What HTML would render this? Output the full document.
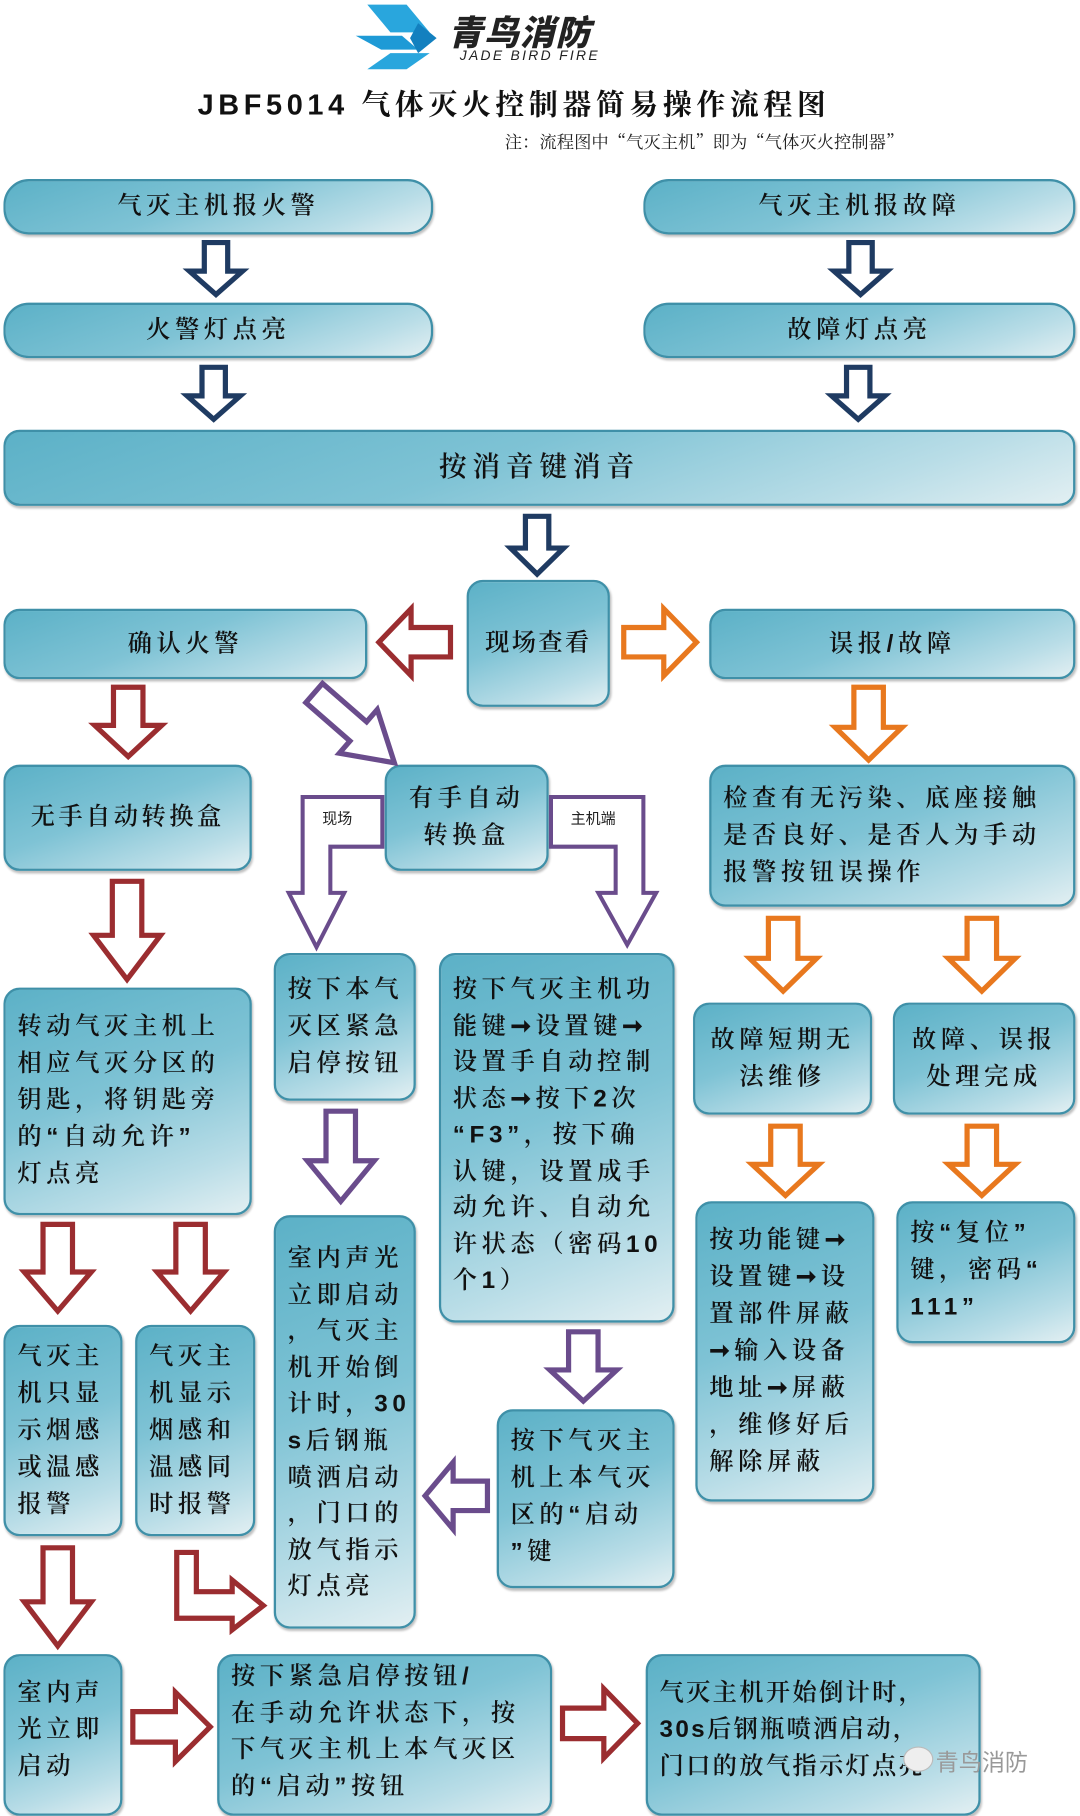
<!DOCTYPE html>
<html><head><meta charset="utf-8">
<style>
html,body{margin:0;padding:0;background:#fff;width:1080px;height:1816px;overflow:hidden}
#c{position:absolute;left:0;top:0;width:935px;height:1572px;transform:scale(1.15508);transform-origin:0 0;font-family:"Liberation Sans","Noto Serif CJK SC",serif}
.b{position:absolute;box-sizing:border-box;border:2px solid #3f90a8;border-radius:14px;
background:linear-gradient(160deg,#5cb1c7 0%,#7fc3d5 45%,#b9dde7 80%,#e2eff2 100%);
box-shadow:1px 2px 2px rgba(0,0,0,.25);color:#111;font-size:21px;font-weight:600;letter-spacing:4px;line-height:32px}
.cc{display:flex;align-items:center;justify-content:center;text-align:center}
.l{padding:12px 0 0 10px;text-align:left}
svg{position:absolute;left:0;top:0}
.lab{position:absolute;font-family:"Liberation Sans","Noto Sans CJK SC",sans-serif;font-size:13px;color:#222}
</style></head><body><div id="c">
<svg width="935" height="80">
<polygon points="318,4 352,4 372,28 338,28" fill="#29a6dd"/>
<polygon points="308,31 348,31 362,43 330,43" fill="#1e9ad6"/>
<polygon points="338,46 372,46 352,60 318,60" fill="#29a6dd"/>
<polygon points="362,20 378,33 362,46 355,33" fill="#1380bf"/>
</svg>
<div style="position:absolute;left:388px;top:4px;font-family:'Noto Sans CJK SC',sans-serif;font-weight:900;font-style:italic;font-size:30px;color:#222;letter-spacing:1px">青鸟消防</div>
<div style="position:absolute;left:398px;top:41px;font-family:'Liberation Sans',sans-serif;font-style:italic;font-size:12px;color:#222;letter-spacing:2px">JADE BIRD FIRE</div>
<div style="position:absolute;left:155px;top:71px;width:580px;text-align:center;font-size:25px;font-weight:700;letter-spacing:4px;color:#111">JBF5014 气体灭火控制器简易操作流程图</div>
<div style="position:absolute;left:437px;top:112px;font-size:15px;color:#222;font-family:'Noto Serif CJK SC',serif">注：流程图中“气灭主机”即为“气体灭火控制器”</div>

<div class="b cc" style="left:3px;top:155px;width:372px;height:48px;border-radius:22px">气灭主机报火警</div>
<div class="b cc" style="left:557px;top:155px;width:374px;height:48px;border-radius:22px">气灭主机报故障</div>
<div class="b cc" style="left:3px;top:262px;width:372px;height:48px;border-radius:22px">火警灯点亮</div>
<div class="b cc" style="left:557px;top:262px;width:374px;height:48px;border-radius:22px">故障灯点亮</div>
<div class="b cc" style="left:3px;top:372px;width:928px;height:66px;font-size:24px;letter-spacing:5px">按消音键消音</div>
<div class="b cc" style="left:404px;top:502px;width:124px;height:110px;letter-spacing:2px">现场查看</div>
<div class="b cc" style="left:3px;top:527px;width:315px;height:61px">确认火警</div>
<div class="b cc" style="left:614px;top:527px;width:317px;height:61px">误报/故障</div>
<div class="b cc" style="left:3px;top:662px;width:215px;height:92px;letter-spacing:3px">无手自动转换盒</div>
<div class="b cc" style="left:333px;top:662px;width:142px;height:92px">有手自动<br>转换盒</div>
<div class="b l" style="left:614px;top:662px;width:317px;height:123px;padding-top:12px">检查有无污染、底座接触<br>是否良好、是否人为手动<br>报警按钮误操作</div>
<div class="b l" style="left:3px;top:855px;width:215px;height:197px;padding-top:16px">转动气灭主机上<br>相应气灭分区的<br>钥匙，将钥匙旁<br>的“自动允许”<br>灯点亮</div>
<div class="b l" style="left:237px;top:825px;width:123px;height:128px;padding-top:14px">按下本气<br>灭区紧急<br>启停按钮</div>
<div class="b l" style="left:380px;top:825px;width:204px;height:320px;padding-top:14px;line-height:31.5px">按下气灭主机功<br>能键➞设置键➞<br>设置手自动控制<br>状态➞按下2次<br>“F3”，按下确<br>认键，设置成手<br>动允许、自动允<br>许状态（密码10<br>个1）</div>
<div class="b cc" style="left:600px;top:868px;width:155px;height:97px">故障短期无<br>法维修</div>
<div class="b cc" style="left:773px;top:868px;width:158px;height:97px">故障、误报<br>处理完成</div>
<div class="b l" style="left:237px;top:1052px;width:123px;height:358px;padding-top:20px;line-height:31.6px">室内声光<br>立即启动<br>，气灭主<br>机开始倒<br>计时，30<br>s后钢瓶<br>喷洒启动<br>，门口的<br>放气指示<br>灯点亮</div>
<div class="b l" style="left:602px;top:1040px;width:155px;height:260px;padding-top:16px">按功能键➞<br>设置键➞设<br>置部件屏蔽<br>➞输入设备<br>地址➞屏蔽<br>，维修好后<br>解除屏蔽</div>
<div class="b l" style="left:776px;top:1040px;width:155px;height:123px;padding-top:10px">按“复位”<br>键，密码“<br>111”</div>
<div class="b l" style="left:3px;top:1147px;width:103px;height:183px;padding-top:10px">气灭主<br>机只显<br>示烟感<br>或温感<br>报警</div>
<div class="b l" style="left:117px;top:1147px;width:104px;height:183px;padding-top:10px">气灭主<br>机显示<br>烟感和<br>温感同<br>时报警</div>
<div class="b l" style="left:430px;top:1220px;width:154px;height:155px;padding-top:10px">按下气灭主<br>机上本气灭<br>区的“启动<br>”键</div>
<div class="b l" style="left:3px;top:1432px;width:103px;height:140px;padding-top:16px">室内声<br>光立即<br>启动</div>
<div class="b l" style="left:188px;top:1432px;width:290px;height:140px;padding-top:2px;line-height:31.5px">按下紧急启停按钮/<br>在手动允许状态下，按<br>下气灭主机上本气灭区<br>的“启动”按钮</div>
<div class="b l" style="left:559px;top:1432px;width:290px;height:140px;padding-top:16px;letter-spacing:2px">气灭主机开始倒计时，<br>30s后钢瓶喷洒启动，<br>门口的放气指示灯点亮</div>

<svg width="935" height="1572">
<g fill="#fff" stroke-width="4.5">
<path stroke="#1f3b62" vector-effect="non-scaling-stroke" transform="translate(187,210) scale(46,45)" d="M-0.22,0 L0.22,0 L0.22,0.55 L0.5,0.55 L0,1 L-0.5,0.55 L-0.22,0.55 Z"/>
<path stroke="#1f3b62" vector-effect="non-scaling-stroke" transform="translate(745,210) scale(46,45)" d="M-0.22,0 L0.22,0 L0.22,0.55 L0.5,0.55 L0,1 L-0.5,0.55 L-0.22,0.55 Z"/>
<path stroke="#1f3b62" vector-effect="non-scaling-stroke" transform="translate(185,318) scale(46,45)" d="M-0.22,0 L0.22,0 L0.22,0.55 L0.5,0.55 L0,1 L-0.5,0.55 L-0.22,0.55 Z"/>
<path stroke="#1f3b62" vector-effect="non-scaling-stroke" transform="translate(743,318) scale(46,45)" d="M-0.22,0 L0.22,0 L0.22,0.55 L0.5,0.55 L0,1 L-0.5,0.55 L-0.22,0.55 Z"/>
<path stroke="#1f3b62" vector-effect="non-scaling-stroke" transform="translate(465,447) scale(46,50)" d="M-0.22,0 L0.22,0 L0.22,0.55 L0.5,0.55 L0,1 L-0.5,0.55 L-0.22,0.55 Z"/>
<path stroke="#9b2d30" vector-effect="non-scaling-stroke" transform="translate(390,556) rotate(90) scale(58,62)" d="M-0.22,0 L0.22,0 L0.22,0.55 L0.5,0.55 L0,1 L-0.5,0.55 L-0.22,0.55 Z"/>
<path stroke="#9b2d30" vector-effect="non-scaling-stroke" transform="translate(111,595) scale(58,60)" d="M-0.22,0 L0.22,0 L0.22,0.55 L0.5,0.55 L0,1 L-0.5,0.55 L-0.22,0.55 Z"/>
<path stroke="#9b2d30" vector-effect="non-scaling-stroke" transform="translate(110,763) scale(58,85)" d="M-0.22,0 L0.22,0 L0.22,0.55 L0.5,0.55 L0,1 L-0.5,0.55 L-0.22,0.55 Z"/>
<path stroke="#9b2d30" vector-effect="non-scaling-stroke" transform="translate(50,1060) scale(58,75)" d="M-0.22,0 L0.22,0 L0.22,0.55 L0.5,0.55 L0,1 L-0.5,0.55 L-0.22,0.55 Z"/>
<path stroke="#9b2d30" vector-effect="non-scaling-stroke" transform="translate(165,1060) scale(58,75)" d="M-0.22,0 L0.22,0 L0.22,0.55 L0.5,0.55 L0,1 L-0.5,0.55 L-0.22,0.55 Z"/>
<path stroke="#9b2d30" vector-effect="non-scaling-stroke" transform="translate(50,1340) scale(58,85)" d="M-0.22,0 L0.22,0 L0.22,0.55 L0.5,0.55 L0,1 L-0.5,0.55 L-0.22,0.55 Z"/>
<path stroke="#9b2d30" vector-effect="non-scaling-stroke" transform="translate(115,1495) rotate(-90) scale(60,67)" d="M-0.22,0 L0.22,0 L0.22,0.55 L0.5,0.55 L0,1 L-0.5,0.55 L-0.22,0.55 Z"/>
<path stroke="#9b2d30" vector-effect="non-scaling-stroke" transform="translate(487,1492) rotate(-90) scale(60,65)" d="M-0.22,0 L0.22,0 L0.22,0.55 L0.5,0.55 L0,1 L-0.5,0.55 L-0.22,0.55 Z"/>
<path stroke="#9b2d30" d="M153,1344 L170,1344 L170,1378 L201,1378 L201,1368 L228,1390 L201,1411 L201,1401 L153,1401 Z"/>
<path stroke="#e8781e" vector-effect="non-scaling-stroke" transform="translate(540,556) rotate(-90) scale(58,63)" d="M-0.22,0 L0.22,0 L0.22,0.55 L0.5,0.55 L0,1 L-0.5,0.55 L-0.22,0.55 Z"/>
<path stroke="#e8781e" vector-effect="non-scaling-stroke" transform="translate(752,595) scale(58,63)" d="M-0.22,0 L0.22,0 L0.22,0.55 L0.5,0.55 L0,1 L-0.5,0.55 L-0.22,0.55 Z"/>
<path stroke="#e8781e" vector-effect="non-scaling-stroke" transform="translate(678,795) scale(58,63)" d="M-0.22,0 L0.22,0 L0.22,0.55 L0.5,0.55 L0,1 L-0.5,0.55 L-0.22,0.55 Z"/>
<path stroke="#e8781e" vector-effect="non-scaling-stroke" transform="translate(850,795) scale(58,63)" d="M-0.22,0 L0.22,0 L0.22,0.55 L0.5,0.55 L0,1 L-0.5,0.55 L-0.22,0.55 Z"/>
<path stroke="#e8781e" vector-effect="non-scaling-stroke" transform="translate(680,975) scale(58,60)" d="M-0.22,0 L0.22,0 L0.22,0.55 L0.5,0.55 L0,1 L-0.5,0.55 L-0.22,0.55 Z"/>
<path stroke="#e8781e" vector-effect="non-scaling-stroke" transform="translate(850,975) scale(58,60)" d="M-0.22,0 L0.22,0 L0.22,0.55 L0.5,0.55 L0,1 L-0.5,0.55 L-0.22,0.55 Z"/>
<path stroke="#6a4c8c" vector-effect="non-scaling-stroke" transform="translate(272,600) rotate(-49) scale(50,92)" d="M-0.22,0 L0.22,0 L0.22,0.55 L0.5,0.55 L0,1 L-0.5,0.55 L-0.22,0.55 Z"/>
<path stroke="#6a4c8c" vector-effect="non-scaling-stroke" transform="translate(295,962) scale(58,78)" d="M-0.22,0 L0.22,0 L0.22,0.55 L0.5,0.55 L0,1 L-0.5,0.55 L-0.22,0.55 Z"/>
<path stroke="#6a4c8c" vector-effect="non-scaling-stroke" transform="translate(505,1153) scale(58,60)" d="M-0.22,0 L0.22,0 L0.22,0.55 L0.5,0.55 L0,1 L-0.5,0.55 L-0.22,0.55 Z"/>
<path stroke="#6a4c8c" vector-effect="non-scaling-stroke" transform="translate(422,1295) rotate(90) scale(58,54)" d="M-0.22,0 L0.22,0 L0.22,0.55 L0.5,0.55 L0,1 L-0.5,0.55 L-0.22,0.55 Z"/>
<path stroke="#6a4c8c" stroke-width="3.5" d="M331,690 L262,690 L262,773 L250,773 L274,820 L298,773 L286,773 L286,733 L331,733 Z"/>
<path stroke="#6a4c8c" stroke-width="3.5" d="M477,690 L557,690 L557,773 L568,773 L543,818 L518,773 L533,773 L533,733 L477,733 Z"/>
</g>
</svg>
<div class="lab" style="left:279px;top:698px">现场</div>
<div class="lab" style="left:494px;top:698px">主机端</div>
<div style="position:absolute;left:782px;top:1512px;width:24px;height:20px;border-radius:50%;background:#eee;border:1px solid #bbb"></div>
<div style="position:absolute;left:810px;top:1510px;font-family:'Noto Sans CJK SC',sans-serif;font-size:20px;color:#999">青鸟消防</div>
</div></body></html>
